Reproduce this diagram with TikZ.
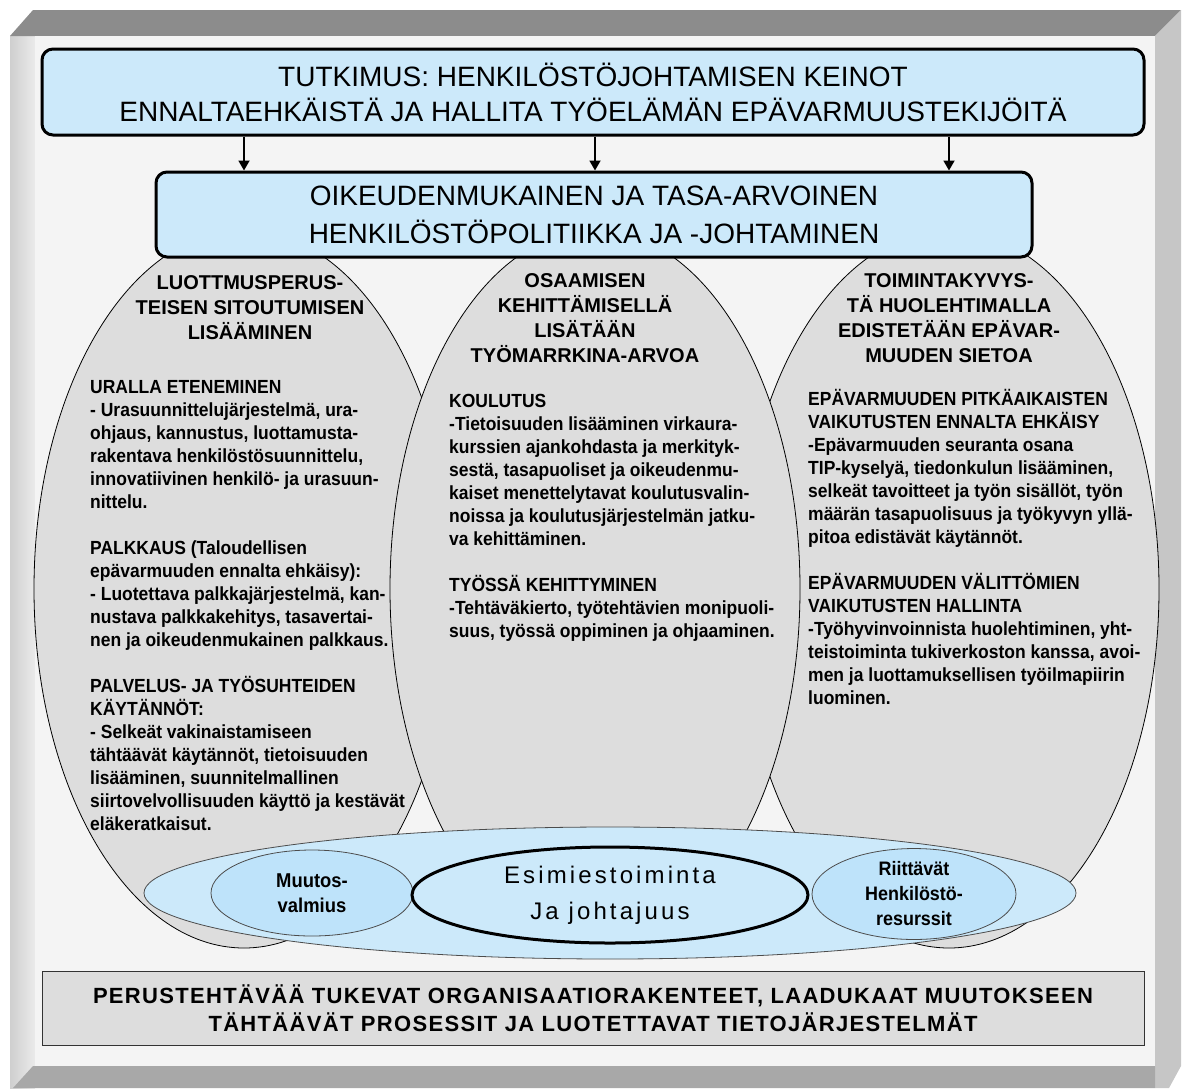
\documentclass[tikz,border=0pt]{standalone}
\usepackage{fontspec}
\setmainfont{Liberation Sans}
\newfontfamily\condfont[FakeStretch=0.92]{Liberation Sans}
\usetikzlibrary{shapes.geometric,arrows.meta}
\definecolor{hrblue}{HTML}{CCE9FA}
\definecolor{hrbluedeep}{HTML}{BEE3FA}
\definecolor{hrgray}{HTML}{DDDDDD}
\definecolor{framefront}{HTML}{F4F4F4}
\definecolor{frametop}{HTML}{8C8C8C}
\definecolor{frameright}{HTML}{C6C6C6}
\definecolor{framebottom}{HTML}{A8A8A8}

\tikzset{
  headbox/.style={rectangle, rounded corners=11pt, draw=black, line width=3pt,
    fill=hrblue, align=center, inner sep=0pt},
  pillar/.style={ellipse, draw=black, line width=0.8pt, fill=hrgray,
    minimum width=420pt, minimum height=718pt, inner sep=0pt},
  % multi-line nodes: base = baseline of the last line
  pillarhead/.style={font=\bfseries\fontsize{20}{25}\selectfont, align=center,
    inner sep=0pt, anchor=base},
  pillartext/.style={font={\condfont\bfseries\fontsize{19}{23}\selectfont},
    align=left, inner sep=0pt, anchor=base west},
  ring/.style={ellipse, inner sep=0pt, align=center},
  down/.style={-{Triangle[length=10pt,width=11pt]}, line width=1.8pt}
}

\begin{document}
\begin{tikzpicture}[x=1pt,y=-1pt]
  \useasboundingbox (0,0) rectangle (1183,1088);

  % bevelled frame round the whole chart
  \shade[left color=black!19, right color=black!8] (10,36) rectangle (35,1088);
  \fill[frametop] (10,36) -- (33,10) -- (1181,10) -- (1155,36) -- cycle;
  \fill[frameright] (1155,36) -- (1181,10) -- (1181,1066) -- (1169,1088)
    -- (1155,1088) -- cycle;
  \fill[framebottom] (33,1066) -- (1155,1066) -- (1155,1088) -- (13,1088) -- cycle;
  \fill[framefront] (35,36) rectangle (1155,1066);

  % three pillars, the middle one lies over the others
  \node[pillar] (ellL) at (244,589) {};
  \node[pillar] (ellR) at (949,589) {};
  \node[pillar, minimum width=410pt] (ellM) at (595,589) {};

  % foundation ring
  \node[ring, draw=black!70, line width=0.8pt, fill=hrblue,
        minimum width=932pt, minimum height=132pt] (base) at (610,893) {};
  \node[ring, draw=black!70, line width=0.8pt, fill=hrbluedeep,
        minimum width=202pt, minimum height=86pt,
        font={\condfont\bfseries\fontsize{20}{25}\selectfont}] (change)
        at (312,893) {Muutos-\\valmius};
  \node[ring, draw=black, line width=3pt, fill=hrblue,
        minimum width=396pt, minimum height=96pt,
        font={\fontsize{24}{36}\selectfont\addfontfeature{LetterSpace=13}}] (lead)
        at (610,895) {Esimiestoiminta\\Ja johtajuus};
  \node[ring, draw=black!70, line width=0.8pt, fill=hrbluedeep,
        minimum width=204pt, minimum height=86pt,
        font={\condfont\bfseries\fontsize{19.5}{25}\selectfont}] (staff)
        at (914,894) {Riittävät\\Henkilöstö-\\resurssit};

  \node[headbox, minimum width=876pt, minimum height=85pt,
        font=\fontsize{28}{38}\selectfont] (policy) at (594,214.5)
        {OIKEUDENMUKAINEN JA TASA-ARVOINEN\\HENKILÖSTÖPOLITIIKKA JA -JOHTAMINEN};
  \node[headbox, minimum width=1102pt, minimum height=86pt,
        font=\fontsize{28}{35}\selectfont] (title) at (593,92)
        {TUTKIMUS: HENKILÖSTÖJOHTAMISEN KEINOT\\ENNALTAEHKÄISTÄ JA HALLITA TYÖELÄMÄN EPÄVARMUUSTEKIJÖITÄ};

  \draw[down] (title.south -| ellL) -- (policy.north -| ellL);
  \draw[down] (title.south -| ellM) -- (policy.north -| ellM);
  \draw[down] (title.south -| ellR) -- (policy.north -| ellR);

  \node[rectangle, draw=black!80, line width=1pt, fill=hrgray, inner sep=0pt,
        minimum width=1102pt, minimum height=74pt, align=center,
        font={\bfseries\fontsize{22}{28}\selectfont\addfontfeature{LetterSpace=6}}]
        (ground) at (593,1008)
        {PERUSTEHTÄVÄÄ TUKEVAT ORGANISAATIORAKENTEET, LAADUKAAT MUUTOKSEEN\\
         TÄHTÄÄVÄT PROSESSIT JA LUOTETTAVAT TIETOJÄRJESTELMÄT};

  % pillar headings and texts
  \node[pillarhead] (lefthead) at (250,339)
    {LUOTTMUSPERUS-\\TEISEN SITOUTUMISEN\\LISÄÄMINEN};
  \node[pillarhead] (midhead) at (585,362)
    {OSAAMISEN\\KEHITTÄMISELLÄ\\LISÄTÄÄN\\TYÖMARRKINA-ARVOA};
  \node[pillarhead] (righthead) at (949,362)
    {TOIMINTAKYVYS-\\TÄ HUOLEHTIMALLA\\EDISTETÄÄN EPÄVAR-\\MUUDEN SIETOA};

  \node[pillartext] (lefttext) at (90,830)
    {URALLA ETENEMINEN\\
     - Urasuunnittelujärjestelmä, ura-\\
     ohjaus, kannustus, luottamusta-\\
     rakentava henkilöstösuunnittelu,\\
     innovatiivinen henkilö- ja urasuun-\\
     nittelu.\\[23pt]
     PALKKAUS (Taloudellisen\\
     epävarmuuden ennalta ehkäisy):\\
     - Luotettava palkkajärjestelmä, kan-\\
     nustava palkkakehitys, tasavertai-\\
     nen ja oikeudenmukainen palkkaus.\\[23pt]
     PALVELUS- JA TYÖSUHTEIDEN\\
     KÄYTÄNNÖT:\\
     - Selkeät vakinaistamiseen\\
     tähtäävät käytännöt, tietoisuuden\\
     lisääminen, suunnitelmallinen\\
     siirtovelvollisuuden käyttö ja kestävät\\
     eläkeratkaisut.};
  \node[pillartext] (midtext) at (449,637)
    {KOULUTUS\\
     -Tietoisuuden lisääminen virkaura-\\
     kurssien ajankohdasta ja merkityk-\\
     sestä, tasapuoliset ja oikeudenmu-\\
     kaiset menettelytavat koulutusvalin-\\
     noissa ja koulutusjärjestelmän jatku-\\
     va kehittäminen.\\[23pt]
     TYÖSSÄ KEHITTYMINEN\\
     -Tehtäväkierto, työtehtävien monipuoli-\\
     suus, työssä oppiminen ja ohjaaminen.};
  \node[pillartext] (righttext) at (808,704)
    {EPÄVARMUUDEN PITKÄAIKAISTEN\\
     VAIKUTUSTEN ENNALTA EHKÄISY\\
     -Epävarmuuden seuranta osana\\
     TIP-kyselyä, tiedonkulun lisääminen,\\
     selkeät tavoitteet ja työn sisällöt, työn\\
     määrän tasapuolisuus ja työkyvyn yllä-\\
     pitoa edistävät käytännöt.\\[23pt]
     EPÄVARMUUDEN VÄLITTÖMIEN\\
     VAIKUTUSTEN HALLINTA\\
     -Työhyvinvoinnista huolehtiminen, yht-\\
     teistoiminta tukiverkoston kanssa, avoi-\\
     men ja luottamuksellisen työilmapiirin\\
     luominen.};
\end{tikzpicture}
\end{document}
